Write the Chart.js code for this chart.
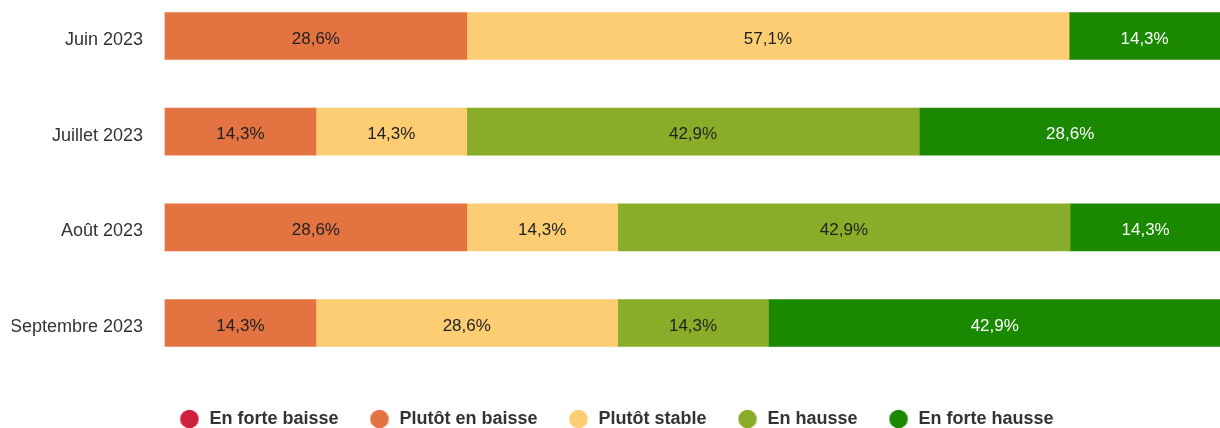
<!DOCTYPE html>
<html>
<head>
<meta charset="utf-8">
<script src="https://cdn.jsdelivr.net/npm/chart.js@4.4.0/dist/chart.umd.min.js"></script>
<style>
  html, body { margin: 0; padding: 0; background: #fff; overflow: hidden; }
  #wrap { position: relative; width: 1220px; height: 438px; }
</style>
</head>
<body>
<div id="wrap"><canvas id="chart"></canvas></div>
<script>
// ── Data ─────────────────────────────────────────────────────────────────────
const categories = ['Juin 2023', 'Juillet 2023', 'Août 2023', 'Septembre 2023'];
const seriesNames = ['En forte baisse', 'Plutôt en baisse', 'Plutôt stable', 'En hausse', 'En forte hausse'];
const fortBaisse  = [0, 0, 0, 0];
const baisse      = [28.6, 14.3, 28.6, 14.3];
const stable      = [57.1, 14.3, 14.3, 28.6];
const hausse      = [0, 42.9, 42.9, 14.3];
const forteHausse = [14.3, 28.6, 14.3, 42.9];
const seriesValues = [fortBaisse, baisse, stable, hausse, forteHausse];
const seriesColors = ['#cf1f3c', '#e37341', '#fdcd73', '#8aad29', '#1a8900'];
const labelColors  = ['#ffffff', '#222222', '#222222', '#222222', '#ffffff'];

const FONT = "'Liberation Sans', Arial, sans-serif";

// legend marker: a filled circle on a small canvas
function dot(color) {
  const c = document.createElement('canvas');
  c.width = 22; c.height = 20;
  const g = c.getContext('2d');
  g.fillStyle = color;
  g.beginPath(); g.arc(11, 10, 9.3, 0, Math.PI * 2); g.fill();
  return c;
}

// ── Value labels inside bars ─────────────────────────────────────────────────
const barLabels = {
  id: 'barLabels',
  afterDatasetsDraw(chart) {
    const ctx = chart.ctx;
    ctx.save();
    ctx.font = '17px ' + FONT;
    ctx.textAlign = 'center';
    ctx.textBaseline = 'middle';
    chart.data.datasets.forEach((ds, di) => {
      const meta = chart.getDatasetMeta(di);
      meta.data.forEach((bar, i) => {
        const v = ds.data[i];
        if (!v) return;
        ctx.fillStyle = labelColors[di];
        ctx.fillText(v.toFixed(1).replace('.', ',') + '%', (bar.x + bar.base) / 2, bar.y + 3);
      });
    });
    ctx.restore();
  }
};

new Chart(document.getElementById('chart'), {
  type: 'bar',
  data: {
    labels: categories,
    datasets: seriesNames.map((name, i) => ({
      label: name,
      // zero shares are left out so no hairline sliver is drawn
      data: seriesValues[i].map(v => v || null),
      backgroundColor: seriesColors[i],
      borderWidth: 0,
      barThickness: 47,
      clip: false,
    }))
  },
  options: {
    indexAxis: 'y',
    responsive: true,
    maintainAspectRatio: false,
    animation: false,
    layout: { padding: { top: 36, right: 0, bottom: 0, left: 12 } },
    scales: {
      x: {
        stacked: true, min: 0, max: 100,
        grid: { display: false }, border: { display: false },
        ticks: { display: false },
        afterFit: s => { s.height = 57; }
      },
      y: {
        stacked: true, offset: false,
        grid: { display: false }, border: { display: false },
        ticks: { color: '#333', padding: 14, labelOffset: 4, font: { family: FONT, size: 18 } },
        afterFit: s => { s.width = 153; }
      }
    },
    plugins: {
      legend: {
        position: 'bottom',
        labels: {
          usePointStyle: true, pointStyleWidth: 22,
          boxWidth: 22, boxHeight: 13, padding: 30,
          color: '#333', font: { family: FONT, size: 18, weight: 'bold' },
          generateLabels: chart => {
            const items = Chart.defaults.plugins.legend.labels.generateLabels(chart);
            items.forEach((it, i) => { it.pointStyle = dot(seriesColors[i]); });
            return items;
          }
        }
      },
      tooltip: { enabled: false }
    }
  },
  plugins: [barLabels]
});
</script>
</body>
</html>
